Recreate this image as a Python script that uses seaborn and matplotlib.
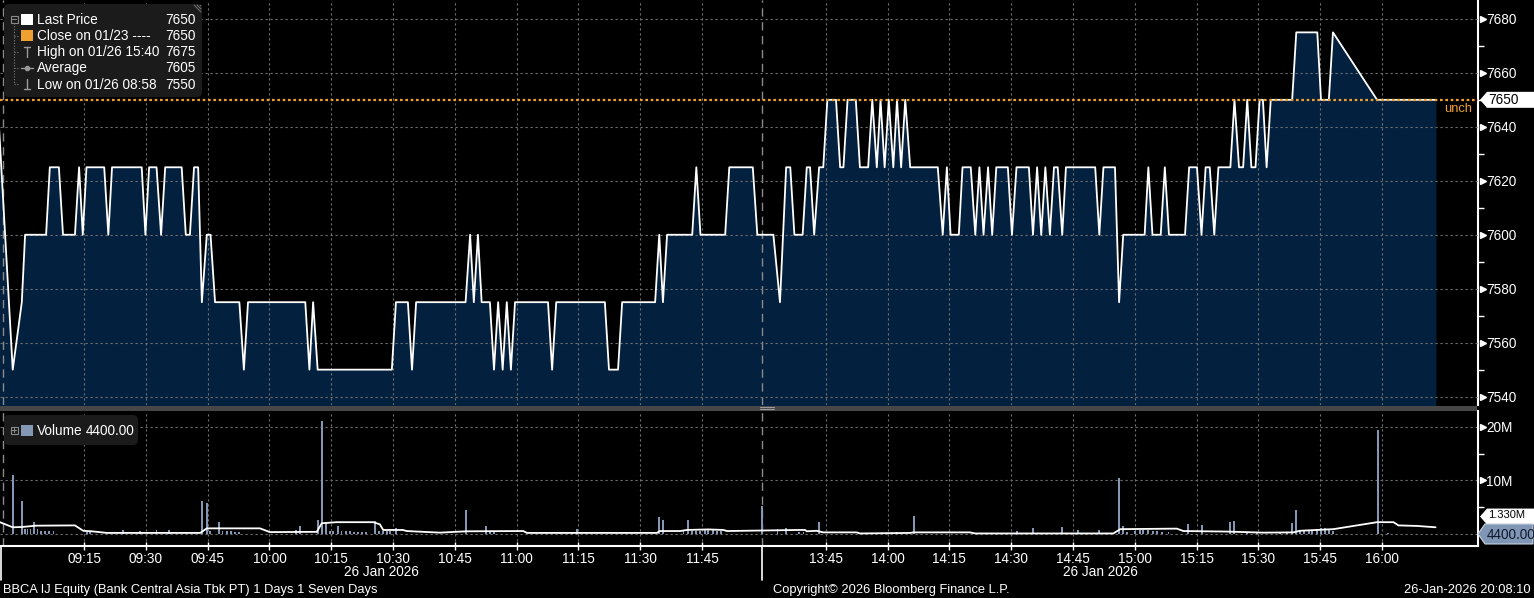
import matplotlib
matplotlib.use("Agg")
import matplotlib.pyplot as plt
import matplotlib.transforms as mtransforms
from matplotlib.patches import Polygon, FancyBboxPatch, Rectangle
from matplotlib import font_manager
import pandas as pd
import seaborn as sns


# =====================================================
# DATA
# x values are session minutes: 09:00 -> 0, lunch break removed (13:30 -> 180)
# =====================================================

price_min = [
    -6, -2.3, -0.1, 0.7, 5.8, 6.7, 8.9, 9.9, 12.8, 13.8,
    14.7, 15.6, 19.9, 20.9, 21.8, 29.0, 29.9, 30.8, 32.6, 33.7,
    34.7, 38.7, 39.7, 40.7, 41.7, 42.7, 43.6, 44.8, 45.7, 46.8,
    52.7, 53.8, 54.8, 68.7, 69.7, 70.6, 71.7, 89.7, 90.7, 93.6,
    94.6, 95.6, 107.6, 108.7, 109.6, 110.6, 111.5, 113.5, 114.5, 115.5,
    116.6, 117.6, 118.6, 119.6, 127.6, 128.6, 129.6, 141.4, 142.4, 144.6,
    145.6, 153.6, 154.6, 155.5, 156.5, 162.6, 163.6, 164.6, 170.6, 171.6,
    177.3, 178.4, 182.3, 183.9, 185.4, 186.4, 187.4, 189.4, 190.4, 191.2,
    192.2, 193.4, 194.4, 195.4, 197.5, 198.5, 199.3, 200.3, 202.3, 203.3,
    205.3, 206.3, 207.4, 208.3, 209.3, 210.3, 211.4, 212.3, 213.3, 214.3,
    215.5, 222.2, 223.4, 224.4, 225.3, 227.3, 228.2, 230.2, 231.3, 232.3,
    233.3, 234.4, 235.4, 236.4, 239.2, 240.2, 241.3, 244.3, 245.3, 246.3,
    247.3, 248.3, 249.4, 250.4, 251.3, 252.4, 253.3, 260.4, 261.4, 262.4,
    265.2, 266.2, 267.2, 272.4, 273.3, 274.3, 276.3, 277.3, 278.3, 282.2,
    283.2, 285.1, 286.2, 287.2, 288.2, 289.3, 290.3, 293.2, 294.2, 295.3,
    296.3, 297.3, 298.3, 299.3, 300.3, 301.1, 302.0, 303.0, 308.2, 309.2,
    314.3, 315.2, 317.1, 318.1, 328.8, 343.1,
]
price_val = [
    7650, 7550, 7575, 7600, 7600, 7625, 7625, 7600, 7600, 7625,
    7600, 7625, 7625, 7600, 7625, 7625, 7600, 7625, 7625, 7600,
    7625, 7625, 7600, 7600, 7625, 7625, 7575, 7600, 7600, 7575,
    7575, 7550, 7575, 7575, 7550, 7575, 7550, 7550, 7575, 7575,
    7550, 7575, 7575, 7600, 7575, 7600, 7575, 7575, 7550, 7575,
    7550, 7575, 7550, 7575, 7575, 7550, 7575, 7575, 7550, 7550,
    7575, 7575, 7600, 7575, 7600, 7600, 7625, 7600, 7600, 7625,
    7625, 7600, 7600, 7575, 7625, 7625, 7600, 7600, 7625, 7625,
    7600, 7625, 7625, 7650, 7650, 7625, 7625, 7650, 7650, 7625,
    7625, 7650, 7625, 7650, 7625, 7650, 7625, 7650, 7625, 7650,
    7625, 7625, 7600, 7625, 7600, 7600, 7625, 7625, 7600, 7625,
    7600, 7625, 7600, 7625, 7625, 7600, 7625, 7625, 7600, 7625,
    7600, 7625, 7600, 7625, 7625, 7600, 7625, 7625, 7600, 7625,
    7625, 7575, 7600, 7600, 7625, 7600, 7600, 7625, 7600, 7600,
    7625, 7625, 7600, 7625, 7625, 7600, 7625, 7625, 7650, 7625,
    7625, 7650, 7625, 7625, 7650, 7650, 7625, 7650, 7650, 7675,
    7675, 7650, 7650, 7675, 7650, 7650,
]

# volume bars, in millions of shares
vol_bar_min = [
    -2.3, -0.1, 0.7, 1.3, 2.0, 2.8, 3.7, 4.6, 5.5, 6.6,
    7.6, 15.7, 16.5, 24.5, 28.6, 32.6, 35.7, 43.6, 44.8, 45.6,
    47.7, 48.6, 49.6, 50.7, 51.7, 52.6, 66.5, 67.4, 71.7, 72.7,
    73.7, 74.7, 75.5, 76.6, 77.5, 78.5, 79.5, 80.5, 81.5, 82.5,
    83.5, 85.6, 86.6, 87.6, 88.5, 89.3, 90.7, 107.7, 112.5, 113.5,
    114.6, 130.5, 133.4, 134.6, 154.5, 155.5, 160.5, 161.5, 162.5, 163.5,
    164.5, 165.7, 166.5, 167.6, 168.6, 169.5, 179.5, 183.3, 185.3, 188.5,
    189.6, 193.4, 212.2, 216.4, 241.4, 245.3, 252.3, 256.2, 261.4, 266.2,
    267.1, 268.1, 270.1, 271.3, 272.1, 273.2, 274.5, 275.4, 276.6, 278.2,
    283.0, 286.3, 293.2, 294.0, 297.2, 299.6, 305.3, 306.9, 308.1, 309.1,
    310.1, 311.1, 312.2, 313.1, 314.2, 315.2, 316.2, 317.2, 318.2, 329.0,
    331.5,
]
vol_bar_val = [
    11.0, 6.2, 0.9, 0.9, 1.0, 2.2, 0.9, 0.5, 0.5, 0.5,
    0.6, 0.3, 0.3, 0.7, 0.6, 0.7, 0.7, 6.2, 5.7, 0.5,
    2.3, 0.5, 0.5, 0.5, 0.4, 0.4, 0.7, 1.5, 2.7, 21.0,
    2.0, 0.6, 0.6, 1.5, 0.6, 0.6, 0.6, 0.4, 0.4, 0.4,
    0.4, 2.4, 0.6, 0.5, 0.5, 0.5, 1.2, 4.4, 1.4, 0.3,
    0.3, 0.3, 0.3, 1.0, 3.2, 2.6, 0.6, 2.6, 0.5, 0.6,
    0.5, 0.7, 0.8, 0.7, 0.6, 0.5, 5.2, 0.9, 1.1, 0.4,
    0.4, 2.2, 0.4, 3.4, 0.6, 1.1, 1.3, 0.7, 0.7, 10.4,
    1.5, 0.4, 0.6, 0.8, 0.8, 0.8, 0.5, 0.5, 0.4, 0.4,
    1.9, 1.7, 2.2, 2.4, 0.3, 0.2, 0.3, 0.4, 2.0, 4.5,
    0.6, 0.7, 0.6, 0.6, 0.7, 1.2, 1.2, 0.7, 0.6, 19.3,
    0.2,
]

# average volume line (white), millions
vol_avg_min = [
    -5.4, -2.3, -0.1, 3.3, 12.8, 14.8, 16.9, 20.5, 43.2, 44.8,
    57.7, 60.1, 71.5, 72.7, 76.3, 85.2, 86.8, 87.6, 92.4, 93.3,
    101.4, 107.7, 121.6, 122.5, 154.0, 154.8, 159.7, 161.3, 166.5, 170.2,
    171.0, 188.4, 190.0, 190.4, 192.8, 194.4, 202.5, 203.3, 215.5, 216.3,
    230.0, 231.3, 264.8, 266.5, 280.2, 281.8, 292.4, 301.2, 308.5, 310.1,
    318.2, 328.8, 332.8, 334.0, 338.5, 343.0,
]
vol_avg_val = [
    2.2, 1.25, 1.3, 1.55, 1.6, 0.6, 0.5, 0.2, 0.2, 1.05,
    1.05, 0.35, 0.4, 2.0, 2.2, 2.2, 1.8, 0.75, 0.75, 0.55,
    0.25, 0.5, 0.55, 0.2, 0.2, 0.55, 0.55, 0.75, 0.85, 0.75,
    0.55, 0.75, 0.75, 0.5, 0.6, 0.3, 0.3, 0.1, 0.2, 0.3,
    0.3, 0.1, 0.1, 0.9, 1.0, 0.55, 0.45, 0.25, 0.3, 0.6,
    0.9, 2.2, 2.2, 1.6, 1.5, 1.25,
]

time_ticks = ["09:15", "09:30", "09:45", "10:00", "10:15", "10:30", "10:45",
              "11:00", "11:15", "11:30", "11:45",
              "13:45", "14:00", "14:15", "14:30", "14:45", "15:00", "15:15",
              "15:30", "15:45", "16:00"]
price_ticks = [7540, 7560, 7580, 7600, 7620, 7640, 7660, 7680]
price_minor = [7550, 7570, 7590, 7610, 7630, 7650, 7670]
vol_ticks = [0, 10, 20]
vol_tick_labels = ["", "10M", "20M"]
vol_minor = [5, 15]
session_marks = [-4.7, 179.6]

last_price = 7650
prev_close = 7650
last_volume = 4400.00
avg_volume_label = "1.330M"

legend_rows = [("Last Price", "7650"),
               ("Close on 01/23 ----", "7650"),
               ("High on 01/26 15:40", "7675"),
               ("Average", "7605"),
               ("Low on 01/26 08:58", "7550")]


# =====================================================
# STYLE
# =====================================================

BG = "black"
FILL = "#03203f"
ORANGE = "#f0a030"
GRID = "#707070"
BAR = "#8497b5"

sns.set_theme(style="dark", rc={
    "axes.facecolor": BG,
    "figure.facecolor": BG,
    "text.color": "white",
    "xtick.color": "white",
    "ytick.color": "white",
})
installed = {f.name for f in font_manager.fontManager.ttflist}
FONT = "Liberation Sans" if "Liberation Sans" in installed else "DejaVu Sans"
plt.rcParams["font.family"] = [FONT, "DejaVu Sans"]

W, H = 1534, 598
X_LIM = (-5.39, 353.3)
P_LIM = (7536.9, 7687.0)
V_LIM = (-2.24, 22.93)


def fig_box(left, top, right, bottom):
    return [left / W, 1 - bottom / H, (right - left) / W, (bottom - top) / H]


def session_minute(hhmm):
    h, m = map(int, hhmm.split(":"))
    t = h * 60 + m
    if t >= 13 * 60 + 30:
        return t - (13 * 60 + 30) + 180
    return t - 9 * 60


tick_pos = [session_minute(t) for t in time_ticks]

price_df = pd.DataFrame({"minute": price_min, "price": price_val})
bars_df = pd.DataFrame({"minute": vol_bar_min, "volume": vol_bar_val})
avg_df = pd.DataFrame({"minute": vol_avg_min, "volume": vol_avg_val})

fig = plt.figure(figsize=(W / 100, H / 100), dpi=100)
ax_p = fig.add_axes(fig_box(0, 0, 1478, 405))
ax_v = fig.add_axes(fig_box(0, 411, 1478, 546))
ov = fig.add_axes([0, 0, 1, 1], zorder=10)
ov.set_xlim(0, W)
ov.set_ylim(H, 0)
ov.axis("off")


# =====================================================
# PRICE PANEL
# =====================================================

ax_p.fill_between(price_df["minute"], price_df["price"], P_LIM[0] - 5,
                  color=FILL, lw=0, zorder=1)
sns.lineplot(data=price_df, x="minute", y="price", ax=ax_p, color="white",
             lw=1.3, estimator=None, sort=False, zorder=3)
ax_p.axhline(prev_close, color=ORANGE, lw=1.6, ls=(0, (1.2, 1.2)), zorder=4)

ax_p.set_xlim(*X_LIM)
ax_p.set_ylim(*P_LIM)
ax_p.set_xticks(tick_pos)
ax_p.set_yticks(price_ticks)
ax_p.set_yticks(price_minor, minor=True)
ax_p.grid(True, which="major", color=GRID, ls=(0, (2, 2.5)), lw=0.8)
ax_p.set_axisbelow(False)
for m in session_marks:
    ax_p.axvline(m, color="#8a8a8a", lw=1, ls=(0, (6, 4)), zorder=2)

ax_p.yaxis.tick_right()
ax_p.tick_params(axis="x", bottom=False, labelbottom=False)
ax_p.tick_params(axis="y", which="major", length=0, pad=6, labelsize=9.8,
                 labelcolor="white")
ax_p.tick_params(axis="y", which="minor", right=True, length=4, width=1,
                 color="white", direction="out")
ax_p.set_xlabel("")
ax_p.set_ylabel("")
for side in ["top", "left", "bottom"]:
    ax_p.spines[side].set_visible(False)
ax_p.spines["right"].set_color("white")
ax_p.spines["right"].set_linewidth(1.5)

tr_p = mtransforms.blended_transform_factory(ax_p.transAxes, ax_p.transData)
ax_p.plot([1.0035] * len(price_ticks), price_ticks, ls="none", marker=">",
          ms=4.5, color="white", transform=tr_p, clip_on=False)

# last price label (white arrow box on the axis)
h = 8 / 377.7 * 140
ax_p.add_patch(Polygon([(1480 / 1478, last_price), (1487 / 1478, last_price + h),
                        (1534 / 1478, last_price + h), (1534 / 1478, last_price - h),
                        (1487 / 1478, last_price - h)],
                       closed=True, fc="white", ec="none", transform=tr_p,
                       clip_on=False, zorder=6))
ax_p.text(1488 / 1478, last_price, f"{last_price}", color="black", fontsize=9.8,
          va="center", ha="left", transform=tr_p, zorder=7, clip_on=False)
ax_p.text(1444 / 1478, prev_close - 9 / 377.7 * 140, "unch", color=ORANGE,
          fontsize=9.3, va="center", ha="left", transform=tr_p)


# =====================================================
# VOLUME PANEL
# =====================================================

ax_v.bar(bars_df["minute"], bars_df["volume"], width=0.45, color=BAR, lw=0,
         zorder=2)
sns.lineplot(data=avg_df, x="minute", y="volume", ax=ax_v, color="white",
             lw=1.3, estimator=None, sort=False, zorder=3)

ax_v.set_xlim(*X_LIM)
ax_v.set_ylim(*V_LIM)
ax_v.set_xticks(tick_pos)
ax_v.set_xticklabels(time_ticks)
ax_v.set_yticks(vol_ticks)
ax_v.set_yticklabels(vol_tick_labels)
ax_v.set_yticks(vol_minor, minor=True)
ax_v.grid(True, which="major", color=GRID, ls=(0, (2, 2.5)), lw=0.8)
for m in session_marks:
    ax_v.axvline(m, color="#8a8a8a", lw=1, ls=(0, (6, 4)), zorder=1)

ax_v.yaxis.tick_right()
ax_v.tick_params(axis="x", bottom=True, length=6, width=1, direction="inout",
                 color="white", labelsize=9.8, labelcolor="white", pad=1)
ax_v.tick_params(axis="y", which="major", length=0, pad=6, labelsize=9.8,
                 labelcolor="white")
ax_v.tick_params(axis="y", which="minor", right=True, length=4, width=1,
                 color="white", direction="out")
ax_v.set_xlabel("")
ax_v.set_ylabel("")
for side in ["top", "left"]:
    ax_v.spines[side].set_visible(False)
for side in ["right", "bottom"]:
    ax_v.spines[side].set_color("white")
    ax_v.spines[side].set_linewidth(1.5)

tr_v = mtransforms.blended_transform_factory(ax_v.transAxes, ax_v.transData)
ax_v.plot([1.0035] * 2, vol_ticks[1:], ls="none", marker=">", ms=4.5,
          color="white", transform=tr_v, clip_on=False)

# average / last volume labels on the axis (average label sits just above)
mpp = (V_LIM[1] - V_LIM[0]) / 135
avg_y = vol_avg_val[-1] + 2.0
hv = 8 * mpp
ax_v.add_patch(Polygon([(1480 / 1478, avg_y), (1487 / 1478, avg_y + hv),
                        (1534 / 1478, avg_y + hv), (1534 / 1478, avg_y - hv),
                        (1487 / 1478, avg_y - hv)],
                       closed=True, fc="white", ec="none", transform=tr_v,
                       clip_on=False, zorder=6))
ax_v.text(1488 / 1478, avg_y + 0.3, avg_volume_label, color="black", fontsize=8,
          va="center", ha="left", transform=tr_v, zorder=7, clip_on=False)
lv = last_volume / 1e6
hb = 10 * mpp
ax_v.add_patch(Polygon([(1478 / 1478, lv), (1485 / 1478, lv + hb),
                        (1533 / 1478, lv + hb), (1533 / 1478, lv - hb),
                        (1485 / 1478, lv - hb)],
                       closed=True, fc="#8196b4", ec="#c8d4e4", lw=0.8,
                       transform=tr_v, clip_on=False, zorder=8))
ax_v.text(1487 / 1478, lv - 0.2, f"{last_volume:.2f}", color="#0e1a2e", fontsize=9.8,
          va="center", ha="left", transform=tr_v, zorder=9, clip_on=False)


# =====================================================
# LEGENDS, SEPARATORS, FOOTER (pixel overlay)
# =====================================================

# panel separator
ov.add_patch(Rectangle((0, 405.5), 1477, 5, fc="#474747", ec="none"))
ov.plot([760, 774], [407, 407], color="#9a9a9a", lw=0.8)
ov.plot([760, 774], [409, 409], color="#9a9a9a", lw=0.8)

# price legend box
ov.add_patch(FancyBboxPatch((4, 4), 198, 93, boxstyle="round,pad=0,rounding_size=5",
                            fc="#1b1b1b", ec="none"))
for i in range(3):
    ov.plot([194 + 3 * i, 201], [5, 12 - 3 * i], color="#777777", lw=0.7)
ov.add_patch(Rectangle((10.5, 15.5), 7, 7, fc="none", ec="#8a8a8a", lw=0.8))
ov.plot([12, 16], [19, 19], color="#8a8a8a", lw=0.8)
ov.plot([14, 14], [23, 84], color="#7a7a7a", lw=0.8, ls=(0, (1, 1.5)))
for y in [36, 52, 68, 84]:
    ov.plot([14, 19], [y, y], color="#7a7a7a", lw=0.8, ls=(0, (1, 1.5)))
ov.add_patch(Rectangle((21, 13.5), 11.5, 11.5, fc="white", ec="none"))
ov.add_patch(Rectangle((21, 29.5), 11.5, 11.5, fc=ORANGE, ec="none"))
ov.plot([26.5, 26.5], [47, 57], color="#9a9a9a", lw=1)
ov.plot([23.5, 29.5], [47, 47], color="#9a9a9a", lw=1)
ov.plot([20.5, 32.5], [68, 68], color="#9a9a9a", lw=1)
ov.plot([26.5], [68], marker="o", ms=3, color="#9a9a9a")
ov.plot([26.5, 26.5], [79, 89], color="#9a9a9a", lw=1)
ov.plot([23.5, 29.5], [89, 89], color="#9a9a9a", lw=1)
for i, (label, value) in enumerate(legend_rows):
    y = 19.5 + i * 16.3
    ov.text(37, y, label, color="white", fontsize=9.8, va="center", ha="left")
    ov.text(196, y, value, color="white", fontsize=9.8, va="center", ha="right")

# volume legend box
ov.add_patch(FancyBboxPatch((4, 415), 134, 30, boxstyle="round,pad=0,rounding_size=5",
                            fc="#1b1b1b", ec="none"))
ov.add_patch(Rectangle((10.5, 426.5), 7, 7, fc="none", ec="#8a8a8a", lw=0.8))
ov.plot([12, 16], [430, 430], color="#8a8a8a", lw=0.8)
ov.plot([14, 14], [428, 432], color="#8a8a8a", lw=0.8)
ov.add_patch(Rectangle((21, 424.5), 11.5, 11.5, fc=BAR, ec="none"))
ov.text(37, 431, "Volume", color="white", fontsize=9.8, va="center", ha="left")
ov.text(86, 431, f"{last_volume:.2f}", color="white", fontsize=9.8,
        va="center", ha="left")

# date separators on the time axis
ov.plot([1, 1], [546, 580], color="white", lw=1.2)
ov.plot([762, 762], [546, 580], color="white", lw=1.2)
ov.text(381, 572, "26 Jan 2026", color="white", fontsize=9.8, ha="center", va="center")
ov.text(1100, 572, "26 Jan 2026", color="white", fontsize=9.8, ha="center", va="center")

# footer
ov.text(3, 590, "BBCA IJ Equity (Bank Central Asia Tbk PT) 1 Days 1 Seven Days",
        color="white", fontsize=9.3, ha="left", va="center")
ov.text(773, 590, "Copyright\u00a9 2026 Bloomberg Finance L.P.",
        color="white", fontsize=9.3, ha="left", va="center")
ov.text(1531, 590, "26-Jan-2026 20:08:10",
        color="white", fontsize=9.3, ha="right", va="center")

plt.savefig("out.png", dpi=100, facecolor=BG)
plt.close()
